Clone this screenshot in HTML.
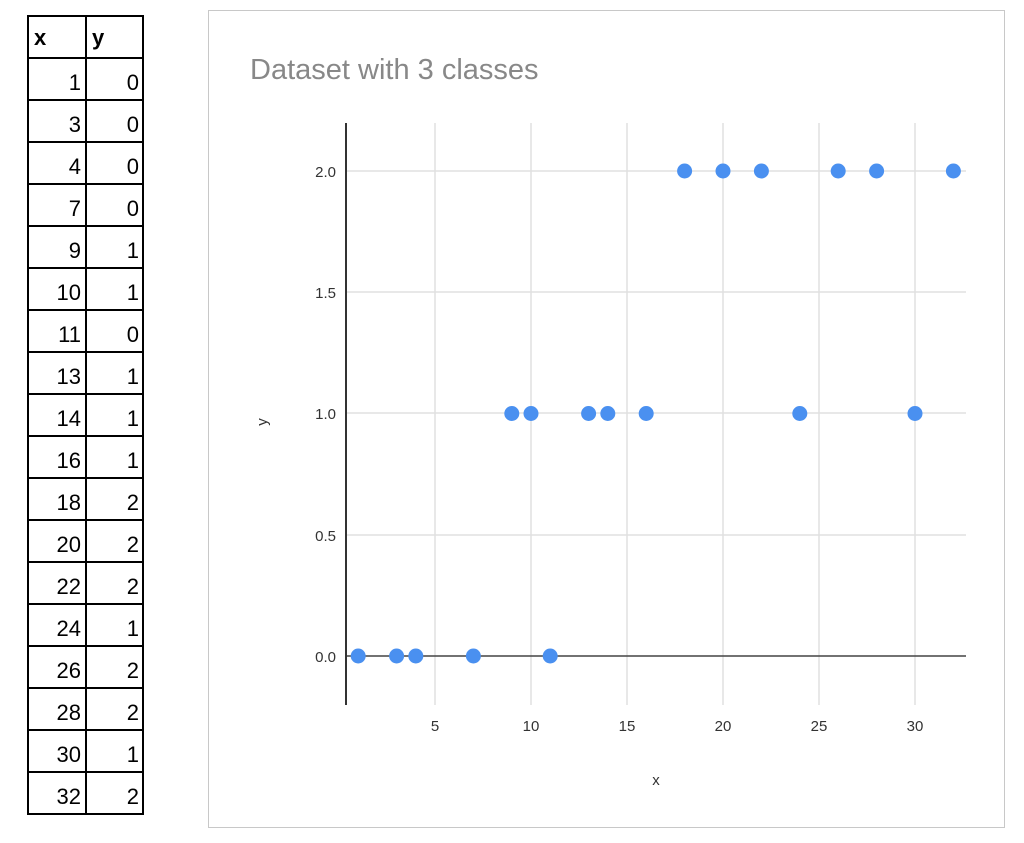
<!DOCTYPE html>
<html><head><style>body{margin:0;background:#fff;}svg{display:block}</style></head><body>
<svg width="1024" height="843" xmlns="http://www.w3.org/2000/svg" font-family="Liberation Sans, sans-serif">
<rect width="1024" height="843" fill="#fff"/>
<!-- table -->
<g stroke="#000" stroke-width="2" fill="none">
<rect x="28" y="16" width="115" height="798"/>
<line x1="86" y1="16" x2="86" y2="814"/>
<g id="rows"></g>
</g>
<g id="tbl" font-size="22" fill="#000"></g>
<!-- chart -->
<rect x="208.5" y="10.5" width="796" height="817" fill="#fff" stroke="#c8c8c8"/>
<text x="250" y="79" font-size="29" fill="#888">Dataset with 3 classes</text>
<g stroke="#e0e0e0" stroke-width="1.5">
<line x1="346" y1="171" x2="966" y2="171"/>
<line x1="346" y1="292" x2="966" y2="292"/>
<line x1="346" y1="413" x2="966" y2="413"/>
<line x1="346" y1="535" x2="966" y2="535"/>
<line x1="435" y1="123" x2="435" y2="705"/>
<line x1="531" y1="123" x2="531" y2="705"/>
<line x1="627" y1="123" x2="627" y2="705"/>
<line x1="723" y1="123" x2="723" y2="705"/>
<line x1="819" y1="123" x2="819" y2="705"/>
<line x1="915" y1="123" x2="915" y2="705"/>
</g>
<line x1="346" y1="656" x2="966" y2="656" stroke="#444" stroke-width="1.5"/>
<line x1="346" y1="123" x2="346" y2="705" stroke="#333" stroke-width="2"/>
<g font-size="15" fill="#333" text-anchor="end">
<text x="336" y="177">2.0</text><text x="336" y="298">1.5</text><text x="336" y="419">1.0</text><text x="336" y="541">0.5</text><text x="336" y="662">0.0</text>
</g>
<g font-size="15" fill="#333" text-anchor="middle">
<text x="435" y="731">5</text><text x="531" y="731">10</text><text x="627" y="731">15</text><text x="723" y="731">20</text><text x="819" y="731">25</text><text x="915" y="731">30</text>
<text x="656" y="785">x</text>
<text x="0" y="0" transform="translate(267,422) rotate(-90)">y</text>
</g>
<g id="pts" fill="#4a90f0"></g>
</svg>
<script>
var d=[[1,0],[3,0],[4,0],[7,0],[9,1],[10,1],[11,0],[13,1],[14,1],[16,1],[18,2],[20,2],[22,2],[24,1],[26,2],[28,2],[30,1],[32,2]];
var ns="http://www.w3.org/2000/svg";
var rows=document.getElementById('rows'),tb=document.getElementById('tbl'),pts=document.getElementById('pts');
function el(t,a,p,txt){var e=document.createElementNS(ns,t);for(var k in a)e.setAttribute(k,a[k]);if(txt!=null)e.textContent=txt;p.appendChild(e);return e;}
for(var i=1;i<19;i++){el('line',{x1:28,x2:143,y1:16+42*i,y2:16+42*i},rows);}
el('text',{x:34,y:45,'font-weight':'bold'},tb,'x');el('text',{x:92,y:45,'font-weight':'bold'},tb,'y');
d.forEach(function(p,i){var y=16+42*(i+1)+32;
el('text',{x:81,y:y,'text-anchor':'end'},tb,p[0]);el('text',{x:139,y:y,'text-anchor':'end'},tb,p[1]);
el('circle',{cx:339+19.2*p[0],cy:656-242.5*p[1],r:7.5},pts);});
</script>
</body></html>
